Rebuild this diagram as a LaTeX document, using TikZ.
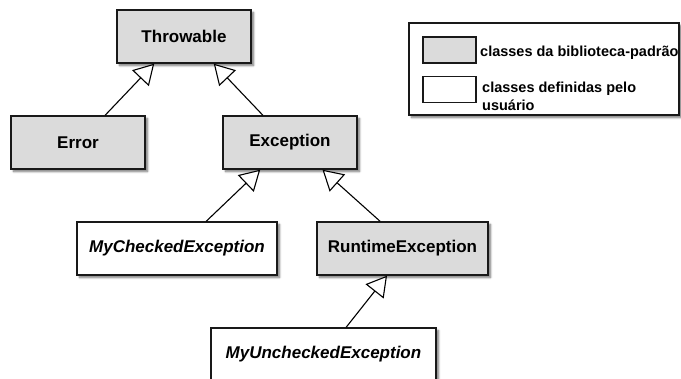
\documentclass[tikz,border=0pt]{standalone}
\usepackage{fontspec}
\setmainfont{Liberation Sans}
\usetikzlibrary{calc,arrows.meta,shadows.blur}
\definecolor{libgray}{gray}{0.86}
\tikzset{
	cls/.style={draw=black!90, line width=1.4pt, inner sep=0pt, minimum height=53pt,
		font=\fontsize{17}{20}\selectfont\bfseries,
		blur shadow={shadow xshift=2.5pt, shadow yshift=-2.5pt, shadow blur steps=6, shadow opacity=55}},
	lib/.style={cls, fill=libgray},
	usr/.style={cls, fill=white, font=\fontsize{17}{20}\selectfont\bfseries\itshape},
	swatch/.style={draw=black!90, line width=1.4pt, minimum width=53pt, minimum height=26pt, inner sep=0pt},
	legtxt/.style={inner sep=0pt, align=left, font=\fontsize{14.5}{18}\selectfont\bfseries},
	inh/.style={line width=1.1pt, -{Triangle[open, length=20pt, width=23pt, fill=white]}},
}

\begin{document}
\begin{tikzpicture}[x=1pt, y=-1pt]
			%%%%% START %%%%%
			
			\clip (0, 0) rectangle (681, 379);
			
			% classes
			\node[lib, minimum width=134pt] (thr) at (184, 36.5) {Throwable};
			\node[lib, minimum width=134pt] (err) at (78, 142.5) {Error};
			\node[lib, minimum width=134pt] (exc) at (290, 142.5) {Exception};
			\node[usr, minimum width=200pt] (chk) at (177, 248.5) {MyCheckedException};
			\node[lib, minimum width=171pt] (rte) at (402.5, 248.5) {RuntimeException};
			\node[usr, minimum width=225pt] (unc) at (323.5, 354.5) {MyUncheckedException};
			
			% inheritance
			\draw[inh] ($(err.north west)!0.70!(err.north east)$) -- ($(thr.south west)!0.28!(thr.south east)$);
			\draw[inh] ($(exc.north west)!0.30!(exc.north east)$) -- ($(thr.south west)!0.72!(thr.south east)$);
			\draw[inh] ($(chk.north west)!0.645!(chk.north east)$) -- ($(exc.south west)!0.28!(exc.south east)$);
			\draw[inh] ($(rte.north west)!0.37!(rte.north east)$) -- ($(exc.south west)!0.74!(exc.south east)$);
			\draw[inh] ($(unc.north west)!0.60!(unc.north east)$) -- ($(rte.south west)!0.41!(rte.south east)$);
			
			% legend
			\node[cls, fill=white, minimum width=270pt, minimum height=92pt] (leg) at (544, 69) {};
			\node[swatch, fill=libgray] (swA) at (449.5, 50) {};
			\node[swatch, fill=white] (swB) at (449.5, 89.5) {};
			\node[legtxt, anchor=base west] (legA) at (480, 57) {classes da biblioteca-padrão};
			\node[legtxt, anchor=north west] (legB) at (482, 82) {classes definidas pelo\\usuário};
			
			%%%%% END %%%%%
		\end{tikzpicture}
\end{document}
